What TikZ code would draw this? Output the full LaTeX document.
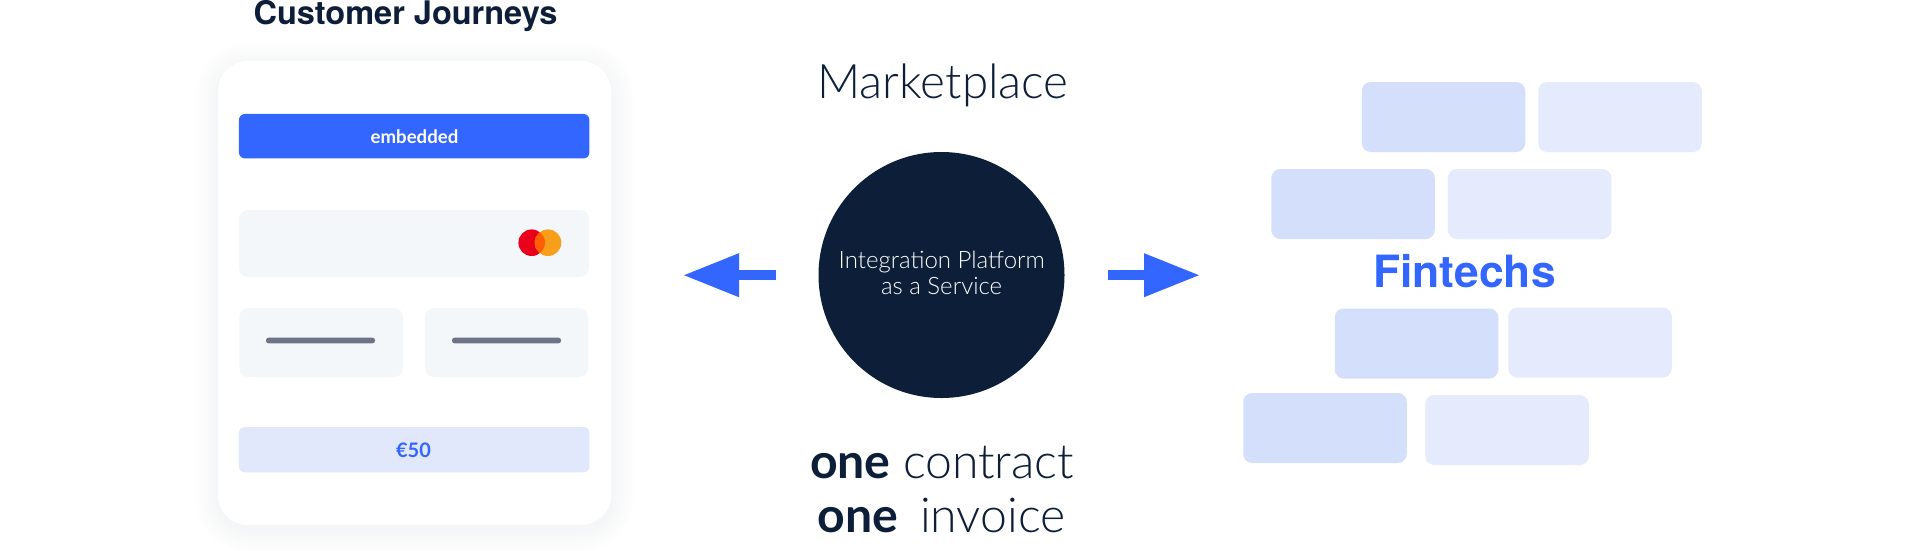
\documentclass[tikz,border=0pt]{standalone}
\usepackage{fontspec}
\setmainfont{Lato}
\newfontfamily\lightf{Lato Light}
\newfontfamily\headf{TeX Gyre Heros}
\usetikzlibrary{arrows.meta}
\definecolor{navy}{HTML}{0C1E38}
\definecolor{brand}{HTML}{3366FF}
\definecolor{tileA}{HTML}{D4DFFC}
\definecolor{tileB}{HTML}{E5EAFD}
\definecolor{amount}{HTML}{E1E8FC}
\definecolor{field}{HTML}{F3F7F9}
\definecolor{rule}{HTML}{6E7387}
\definecolor{mcred}{HTML}{EB001B}
\definecolor{mcor}{HTML}{F79E1B}
\definecolor{mcmid}{HTML}{FF5F00}
\tikzset{
  box/.style={rectangle,inner sep=0pt,outer sep=0pt},
  tile/.style={box,rounded corners=9pt,minimum width=163.5pt,minimum height=70pt},
  tiledark/.style={tile,fill=tileA},
  tilelight/.style={tile,fill=tileB},
  fieldbox/.style={box,rounded corners=9pt,fill=field},
  dash line/.style={box,rounded corners=2.5pt,fill=rule,minimum width=109pt,minimum height=5.6pt},
  flow/.style={brand,line width=10pt,-{Triangle[length=56pt,width=41pt]}},
  mc/.style={circle,inner sep=0pt,minimum size=26.6pt},
  label/.style={anchor=base,inner sep=0pt},
  hubtext/.style={label,font=\lightf\fontsize{24}{27}\selectfont,text=white},
  bigtext/.style={label,font=\fontsize{48.2}{52}\selectfont,text=navy},
}
\begin{document}
\begin{tikzpicture}[x=1pt,y=-1pt]
\useasboundingbox (0,0) rectangle (1920,550);
\fill[white] (0,0) rectangle (1920,550);
% soft card shadow: opaque rings, palest outside
\foreach \g in {24,22,...,2}{
  \pgfmathsetmacro{\tint}{(24-\g)*0.18}
  \fill[navy!\tint!white,rounded corners={30pt+\g pt}] (218-\g,61-\g+4) rectangle (611+\g,525+\g+4);
}
\node[box,fill=white,rounded corners=30pt,minimum width=393pt,minimum height=464pt] (card) at (414.5,293) {};
\node[label,font=\headf\bfseries\fontsize{32.5}{36}\selectfont,text=navy] (cj) at (405.5,24.5) {Customer Journeys};
\node[box,fill=brand,rounded corners=6pt,minimum width=350.5pt,minimum height=44.5pt] (emb) at (414.2,136.2) {};
\node[label,font=\bfseries\fontsize{18.6}{20}\selectfont,text=white] (embt) at (414.5,143.3) {embedded};
\node[fieldbox,minimum width=350pt,minimum height=67pt] (pan) at (414,243.5) {};
\node[mc,fill=mcred] (mca) at (531.7,242.7) {};
\node[mc,fill=mcor] (mcb) at (548,242.7) {};
\begin{scope}
\clip (531.7,242.7) circle (13.3);
\fill[mcmid] (548,242.7) circle (13.3);
\end{scope}
\node[fieldbox,minimum width=163.5pt,minimum height=69pt] (fa) at (321.2,342.5) {};
\node[fieldbox,minimum width=163pt,minimum height=69pt] (fb) at (506.5,342.5) {};
\node[dash line] (la) at (320.5,340.5) {};
\node[dash line] (lb) at (506.5,340.5) {};
\node[box,fill=amount,rounded corners=6pt,minimum width=350.5pt,minimum height=45.3pt] (amt) at (414.2,449.7) {};
\node[label,font=\bfseries\fontsize{20}{22}\selectfont,text=brand] (amtt) at (413.5,457.2) {€50};
% centre
\node[label,font=\lightf\fontsize{47.6}{52}\selectfont,text=navy] (mkt) at (943,98) {Marketplace};
\node[circle,fill=navy,minimum size=246pt,inner sep=0pt] (hub) at (941.5,275) {};
\node[hubtext] (ipa) at (941.8,268) {Integration Platform};
\node[hubtext] (ipb) at (941.6,294.5) {as a Service};
\node[bigtext] (oc) at (942,478) {{\bfseries one} {\lightf contract}};
\node[bigtext] (oi) at (941.5,532) {{\bfseries one}\hspace{.2em} {\lightf invoice}};
\coordinate (ls) at (776,275.2);
\coordinate (lt) at (683,275.2);
\coordinate (rs) at (1107.5,275.2);
\coordinate (rt) at (1200,275.2);
\draw[flow] (ls) -- (lt);
\draw[flow] (rs) -- (rt);
% fintechs
\node[tiledark] (t1) at (1443.5,117) {};
\node[tilelight] (t2) at (1620,117) {};
\node[tiledark] (t3) at (1353,204) {};
\node[tilelight] (t4) at (1529.5,204) {};
\node[label,font=\headf\bfseries\fontsize{44.4}{48}\selectfont,text=brand] (fin) at (1464.5,287.7) {Fintechs};
\node[tiledark] (t5) at (1416.5,343.5) {};
\node[tilelight] (t6) at (1590,342.5) {};
\node[tiledark] (t7) at (1325,428) {};
\node[tilelight] (t8) at (1507,430) {};
\end{tikzpicture}
\end{document}
